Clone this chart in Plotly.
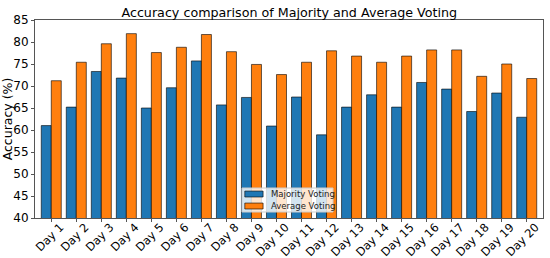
import plotly.graph_objects as go

# Data
days = ['Day %d' % i for i in range(1, 21)]
majority_voting = [61.0, 65.2, 73.3, 71.8, 65.0, 69.6, 75.7, 65.7, 67.4, 60.9,
                   67.5, 58.9, 65.2, 68.0, 65.2, 70.8, 69.3, 64.2, 68.4, 62.9]
average_voting = [71.2, 75.4, 79.6, 81.9, 77.6, 78.8, 81.7, 77.8, 74.9, 72.6,
                  75.4, 78.0, 76.8, 75.4, 76.8, 78.2, 78.2, 72.2, 75.0, 71.7]
series_names = ['Majority Voting', 'Average Voting']
series_colors = ['#1f77b4', '#ff7f0e']

font_family = 'DejaVu Sans'
edge = dict(color='rgba(0,0,0,0.75)', width=0.8)

fig = go.Figure()
for name, vals, col in zip(series_names, [majority_voting, average_voting], series_colors):
    fig.add_trace(go.Bar(x=days, y=vals, name=name,
                         marker=dict(color=col, line=edge)))

# matplotlib-like compact legend (plotly's own legend rows are too tall here)
fig.add_shape(type='rect', xref='paper', yref='paper',
              x0=0.4075, x1=0.5866, y0=0.0303, y1=0.1515,
              fillcolor='rgba(255,255,255,0.8)', line=dict(color='#cccccc', width=1))
for i, (name, col) in enumerate(zip(series_names, series_colors)):
    yc = 0.121 - i * 0.0605
    fig.add_shape(type='rect', xref='paper', yref='paper',
                  x0=0.413, x1=0.449, y0=yc - 0.015, y1=yc + 0.015,
                  fillcolor=col, line=edge)
    fig.add_annotation(text=name, xref='paper', yref='paper', x=0.4606, y=yc,
                       xanchor='left', yanchor='middle', showarrow=False,
                       font=dict(size=8.5, color='#222'))

fig.update_layout(
    width=550, height=258,
    margin=dict(l=35, r=7, t=20, b=40, autoexpand=False),
    barmode='group', bargap=0.2, bargroupgap=0,
    plot_bgcolor='white', paper_bgcolor='white',
    font=dict(family=font_family, size=12, color='black'),
    title=dict(text='Accuracy comparison of Majority and Average Voting',
               x=0.526, xanchor='center', y=0.952, yanchor='middle',
               font=dict(size=12.7)),
    showlegend=False,
)
fig.update_xaxes(range=[-0.65, 19.65], tickangle=-45, ticklabelshift=9,
                 ticklabelstandoff=-6, automargin=False,
                 showline=True, linecolor='#555', linewidth=1, mirror=True,
                 ticks='outside', ticklen=3, tickcolor='#555',
                 tickfont=dict(size=11.5))
fig.update_yaxes(range=[40, 85], dtick=5, showgrid=False, automargin=False,
                 showline=True, linecolor='#555', linewidth=1, mirror=True,
                 ticks='outside', ticklen=3, tickcolor='#555',
                 tickfont=dict(size=12),
                 title=dict(text='Accuracy (%)', standoff=2, font=dict(size=12.5)))

fig.write_html("out.html", config={'displayModeBar': False},
               post_script="document.body.style.margin='0';")
